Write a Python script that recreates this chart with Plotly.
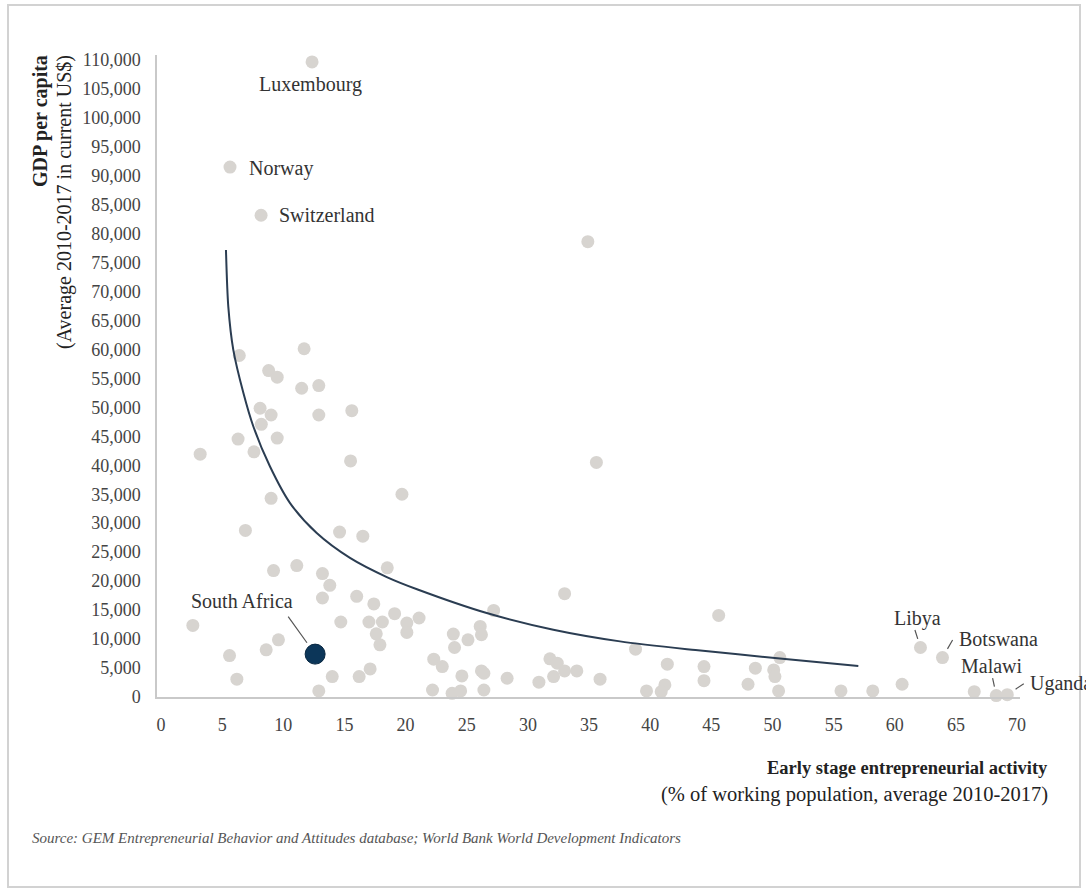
import plotly.graph_objects as go

# ---------------- data ----------------
# Early-stage entrepreneurial activity (% of working population) and GDP per capita (US$)
other_x = [34.9, 35.6, 11.7, 6.4, 8.8, 9.5, 11.5, 12.9, 8.1, 9.0,
           12.9, 15.6, 8.2, 6.3, 9.5, 7.6, 3.2, 15.5, 19.7, 9.0,
           6.9, 14.6, 16.5, 9.2, 11.1, 13.2, 13.8, 18.5, 13.2, 16.0,
           17.4, 2.6, 14.7, 17.0, 18.1, 19.1, 20.1, 21.1, 17.6, 20.1,
           17.9, 9.6, 8.6, 5.6, 6.2, 14.0, 16.2, 17.1, 12.9,
           33.0, 27.2, 26.1, 26.2, 23.9, 25.1, 24.0, 38.8, 22.3, 23.0,
           24.6, 26.2, 26.4, 28.3, 30.9, 31.8, 32.4, 33.0, 34.0, 32.1,
           35.9, 41.4, 41.2, 40.9, 39.7, 22.2, 23.8, 24.5, 26.4,
           45.6, 44.4, 44.4, 48.6, 48.0, 50.1, 50.2, 50.6, 50.5, 55.6,
           58.2, 60.6, 66.5]
other_y = [78580, 40480, 60100, 58940, 56340, 55200, 53290, 53740, 49830, 48670,
           48670, 49410, 47060, 44510, 44690, 42310, 41910, 40750, 34990, 34290,
           28750, 28460, 27760, 21820, 22690, 21300, 19280, 22290, 17090, 17370,
           16060, 12350, 12940, 12940, 12940, 14380, 12760, 13630, 10910, 11140,
           9010, 9870, 8140, 7150, 3070, 3520, 3520, 4850, 1040,
           17840, 14950, 12180, 10740, 10860, 9870, 8540, 8260, 6530, 5250,
           3640, 4500, 4100, 3240, 2550, 6580, 5840, 4500, 4500, 3520,
           3070, 5660, 2080, 920, 1040, 1210, 640, 1040, 1210,
           14080, 5250, 2820, 4970, 2200, 4680, 3520, 6810, 1040, 1040,
           1040, 2200, 920]

named_countries = ["Luxembourg", "Norway", "Switzerland", "Libya", "Botswana", "Malawi", "Uganda"]
named_x = [12.35, 5.64, 8.18, 62.1, 63.9, 68.3, 69.2]
named_y = [109600, 91450, 83140, 8540, 6810, 250, 400]

sa_name = "South Africa"
sa_x = [12.6]
sa_y = [7400]

# trend curve
trend_x = [5.31, 5.50, 5.91, 6.73, 7.55, 8.91, 10.55, 12.73, 15.45, 18.46,
           21.04, 26.63, 32.08, 37.53, 43.7, 50.61, 57.02]
trend_y = [77160, 67380, 59910, 52500, 46680, 39780, 33470, 28290, 24000, 20700,
           18510, 14490, 11610, 9600, 8100, 6650, 5350]

x_ticks = list(range(0, 71, 5))
y_ticks = list(range(0, 110001, 5000))

# ---------------- layout geometry ----------------
W, H = 1086, 892
L, R, T, B = 157, 66, 55, 195
PW, PH = W - L - R, H - T - B


def paper(px, py):
    return (px - L) / PW, (H - B - py) / PH


SERIF = "Liberation Serif, Times New Roman, serif"
GRAY_PT = "#d7d4d0"
NAVY = "#0c3659"
TXT = "#333333"

fig = go.Figure()

fig.add_trace(go.Scatter(
    x=other_x + named_x, y=other_y + named_y, mode="markers",
    marker=dict(size=13, color=GRAY_PT, line=dict(width=0)),
    cliponaxis=False, showlegend=False, hoverinfo="x+y"))

fig.add_trace(go.Scatter(
    x=trend_x, y=trend_y, mode="lines",
    line=dict(color="#2b3d52", width=2, shape="spline", smoothing=0.8),
    showlegend=False, hoverinfo="skip"))

fig.add_trace(go.Scatter(
    x=sa_x, y=sa_y, mode="markers", name=sa_name,
    marker=dict(size=20, color=NAVY, line=dict(width=1, color="#072640")),
    cliponaxis=False, showlegend=False))

ann = []
lab_font = dict(family=SERIF, size=20, color=TXT)

# text labels: name -> (xanchor, xshift, yshift)
label_specs = {
    "Luxembourg": ("center", -2, -23),
    "Norway": ("left", 17, -1),
    "Switzerland": ("left", 16, 0),
    "Libya": ("center", -3, 29),
    "Botswana": ("left", 15, 19),
    "Malawi": ("center", -4, 30),
    "Uganda": ("left", 21, 11),
}
for name, xv, yv in zip(named_countries, named_x, named_y):
    xa, xs, ys = label_specs[name]
    ann.append(dict(x=xv, y=yv, xref="x", yref="y", text=name, showarrow=False,
                    xanchor=xa, yanchor="middle", xshift=xs, yshift=ys, font=lab_font))
ann.append(dict(x=sa_x[0], y=sa_y[0], xref="x", yref="y", text=sa_name, showarrow=False,
                xanchor="center", yanchor="middle", xshift=-73, yshift=53, font=lab_font))

# leader lines: (x, y, ax, ay, standoff)
leaders = [
    (sa_x[0], sa_y[0], -28, -39, 14),
    (named_x[3], named_y[3], -6, -19, 9),
    (named_x[4], named_y[4], 11, -19, 10),
    (named_x[5], named_y[5], -4, -19, 9),
    (named_x[6], named_y[6], 18, -12, 10),
]
for xv, yv, ax, ay, so in leaders:
    ann.append(dict(x=xv, y=yv, xref="x", yref="y", text="", showarrow=True,
                    ax=ax, ay=ay, axref="pixel", ayref="pixel", arrowhead=0,
                    arrowwidth=1.2, arrowcolor="#555555", standoff=so))

# axis titles
px_, py_ = paper(40, 53)
ann.append(dict(x=px_, y=py_, xref="paper", yref="paper", text="<b>GDP per capita</b>",
                textangle=-90, showarrow=False, xanchor="center", yanchor="top",
                font=dict(family=SERIF, size=20, color="#222")))
px_, py_ = paper(64, 53)
ann.append(dict(x=px_, y=py_, xref="paper", yref="paper",
                text="(Average 2010-2017 in current US$)",
                textangle=-90, showarrow=False, xanchor="center", yanchor="top",
                font=dict(family=SERIF, size=20, color="#222")))
px_, py_ = paper(1050, 768)
ann.append(dict(x=px_, y=py_, xref="paper", yref="paper",
                text="<b>Early stage entrepreneurial activity</b>",
                showarrow=False, xanchor="right", yanchor="middle",
                font=dict(family=SERIF, size=18.5, color="#222")))
px_, py_ = paper(1050, 794)
ann.append(dict(x=px_, y=py_, xref="paper", yref="paper",
                text="(% of working population, average 2010-2017)",
                showarrow=False, xanchor="right", yanchor="middle",
                font=dict(family=SERIF, size=20.5, color="#222")))
px_, py_ = paper(30, 838)
ann.append(dict(x=px_, y=py_, xref="paper", yref="paper",
                text="<i>Source: GEM Entrepreneurial Behavior and Attitudes database; World Bank World Development Indicators</i>",
                showarrow=False, xanchor="left", yanchor="middle",
                font=dict(family=SERIF, size=15, color="#555")))

# frame
fx0, fy0 = paper(8, 5)
fx1, fy1 = paper(1080, 887)
shapes = [dict(type="rect", xref="paper", yref="paper", x0=fx0, y0=fy1, x1=fx1, y1=fy0,
               line=dict(color="#d2d2d2", width=2), fillcolor="rgba(0,0,0,0)", layer="below")]

fig.update_layout(
    width=W, height=H,
    margin=dict(l=L, r=R, t=T, b=B, pad=0),
    paper_bgcolor="white", plot_bgcolor="white",
    font=dict(family=SERIF, color="#444"),
    annotations=ann, shapes=shapes,
    xaxis=dict(range=[-0.33, 70.24], tickmode="array", tickvals=x_ticks,
               ticktext=[str(v) for v in x_ticks],
               showgrid=False, zeroline=False, showline=True, linecolor="#c9c9c9", linewidth=1.5,
               ticks="", ticklabelstandoff=11, tickfont=dict(family=SERIF, size=18, color="#444")),
    yaxis=dict(range=[0, 110800], tickmode="array", tickvals=y_ticks,
               ticktext=[f"{v:,}" for v in y_ticks],
               showgrid=False, zeroline=False, showline=True, linecolor="#c9c9c9", linewidth=1.5,
               ticks="", ticklabelstandoff=11, tickfont=dict(family=SERIF, size=18, color="#444")),
)

fig.write_html("out.html", config={"displayModeBar": False},
               post_script="document.body.style.margin='0';")
